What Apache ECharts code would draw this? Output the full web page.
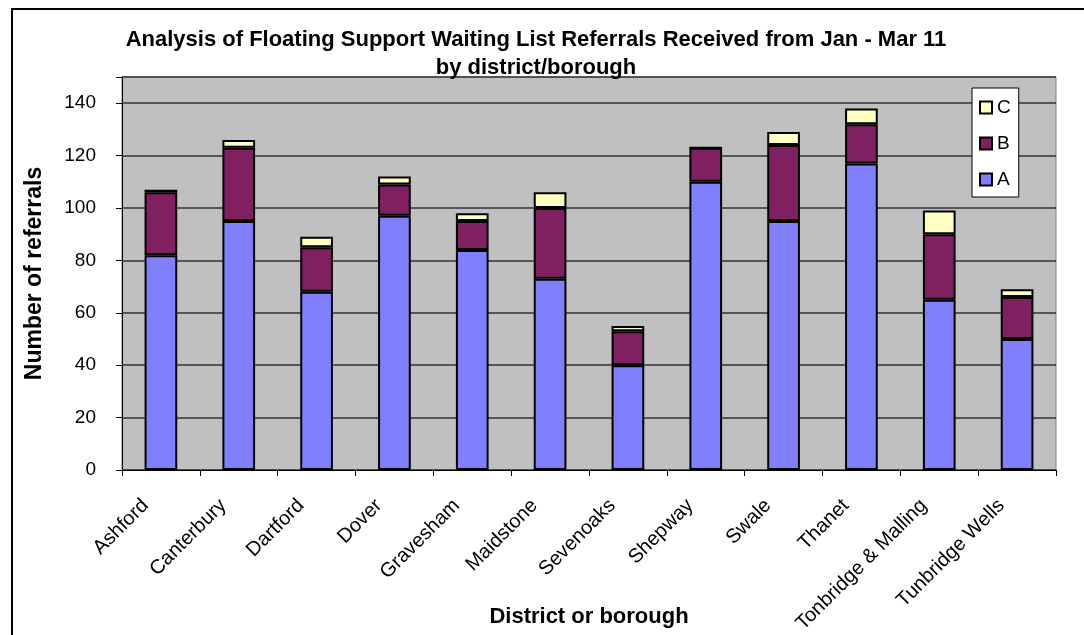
<!DOCTYPE html>
<html>
<head>
<meta charset="utf-8">
<title>Floating Support Waiting List Referrals</title>
<script src="https://cdn.jsdelivr.net/npm/echarts@6/dist/echarts.min.js"></script>
<style>
	html,body{margin:0;padding:0;background:#fff;}
	#body1{width:1084px;height:635px;}
</style>
</head>
<body>
<div id="body1"></div>
<script>
var districts = ['Ashford','Canterbury','Dartford','Dover','Gravesham','Maidstone','Sevenoaks','Shepway','Swale','Thanet','Tonbridge & Malling','Tunbridge Wells'];
var bandA = [82,95,68,97,84,73,40,110,95,117,65,50];
var bandB = [24,28,17,12,11,27,13,13,29,15,25,16];
var bandC = [1,3,4,3,3,6,2,0,5,6,9,3];
var yTicks = [0,20,40,60,80,100,120,140];

var font = 'Arial, "Liberation Sans", sans-serif';

function refChart(){
	var myChart = echarts.init(document.getElementById('body1'));
	var option = {
		backgroundColor : '#fff',
		animation : false,
		title : {
			text : 'Analysis of Floating Support Waiting List Referrals Received from Jan - Mar 11\nby district/borough',
			left : 531,
			top : 21,
			textAlign : 'center',
			textStyle : {
				fontFamily : font,
				fontSize : 22,
				fontWeight : 'bold',
				color : '#000',
				lineHeight : 28
			}
		},
		legend : {
			orient : 'vertical',
			left : 972,
			top : 88,
			padding : [10,8,8,7],
			itemGap : 17,
			itemWidth : 12,
			itemHeight : 12,
			icon : 'rect',
			backgroundColor : '#fff',
			borderColor : '#000',
			borderWidth : 1,
			data : ['C','B','A'],
			textStyle : {
				fontFamily : font,
				fontSize : 19,
				color : '#000'
			}
		},
		grid : {
			left : 122,
			right : 28,
			top : 77,
			bottom : 165,
			outerBoundsMode : 'none',//不自动缩小绘图区
			show : true,
			backgroundColor : '#C0C0C0',
			borderColor : '#808080',
			borderWidth : 1
		},
		xAxis : [ {
			type : 'category',
			data : districts,
			name : 'District or borough',
			nameLocation : 'middle',
			nameGap : 136,
			nameMoveOverlap : false,
			nameTextStyle : {
				fontFamily : font,
				fontSize : 22,
				fontWeight : 'bold',
				color : '#000'
			},
			axisLine : {lineStyle : {color : '#000', width : 1}},
			axisTick : {show : true, length : 6, lineStyle : {color : '#000'}},
			axisLabel : {
				interval : 0,
				rotate : 45,
				margin : 17,
				padding : [0,22,0,0],//斜标签往下挪
				fontFamily : font,
				fontSize : 20,
				color : '#000'
			}
		} ],
		yAxis : [ {
			type : 'value',
			min : 0,
			max : 150,
			interval : 20,
			name : 'Number of referrals',
			nameLocation : 'middle',
			nameGap : 76,
			nameMoveOverlap : false,
			nameTextStyle : {
				fontFamily : font,
				fontSize : 23,
				fontWeight : 'bold',
				color : '#000'
			},
			axisLine : {show : true, lineStyle : {color : '#000', width : 1}},
			axisTick : {show : true, length : 6, lineStyle : {color : '#000'}},
			splitLine : {lineStyle : {color : '#333', width : 1.5}},
			axisLabel : {
				margin : 26,
				fontFamily : font,
				fontSize : 19,
				color : '#000',
				formatter : function(v){
					return yTicks.indexOf(v) >= 0 ? String(v) : '';
				}
			}
		} ],
		series : [ {
			name : 'A',
			type : 'bar',
			stack : 'total',
			barWidth : '42%',
			data : bandA,
			itemStyle : {color : '#8080FF', borderColor : '#000', borderWidth : 2}
		}, {
			name : 'B',
			type : 'bar',
			stack : 'total',
			data : bandB,
			itemStyle : {color : '#802060', borderColor : '#000', borderWidth : 2}
		}, {
			name : 'C',
			type : 'bar',
			stack : 'total',
			data : bandC,
			itemStyle : {color : '#FFFFC0', borderColor : '#000', borderWidth : 2}
		} ],
		//外框
		graphic : [ {
			type : 'rect',
			silent : true,
			shape : {x : 12, y : 9, width : 1200, height : 800},
			style : {fill : 'none', stroke : '#000', lineWidth : 2}
		} ]
	};
	myChart.setOption(option);
}

refChart();
</script>
</body>
</html>
